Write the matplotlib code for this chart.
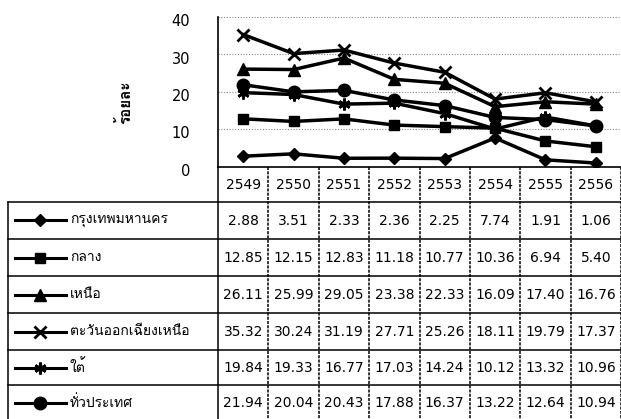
import matplotlib
matplotlib.use("Agg")
import matplotlib.pyplot as plt
from matplotlib import font_manager as fm
from matplotlib.lines import Line2D
from matplotlib.transforms import ScaledTranslation

years = ["2549", "2550", "2551", "2552", "2553", "2554", "2555", "2556"]
series_names = ["กรุงเทพมหานคร", "กลาง", "เหนือ", "ตะวันออกเฉียงเหนือ", "ใต้", "ทั่วประเทศ"]
bangkok = [2.88, 3.51, 2.33, 2.36, 2.25, 7.74, 1.91, 1.06]
central = [12.85, 12.15, 12.83, 11.18, 10.77, 10.36, 6.94, 5.40]
north = [26.11, 25.99, 29.05, 23.38, 22.33, 16.09, 17.40, 16.76]
northeast = [35.32, 30.24, 31.19, 27.71, 25.26, 18.11, 19.79, 17.37]
south = [19.84, 19.33, 16.77, 17.03, 14.24, 10.12, 13.32, 10.96]
whole = [21.94, 20.04, 20.43, 17.88, 16.37, 13.22, 12.64, 10.94]
series_values = [bangkok, central, north, northeast, south, whole]
y_ticks = [0, 10, 20, 30, 40]
y_label = "ร้อยละ"

available = {f.name for f in fm.fontManager.ttflist}
thai_font = next((n for n in ["Loma", "Noto Sans Thai Looped", "Noto Sans Thai"] if n in available), "DejaVu Sans")
THAI = [thai_font, "DejaVu Sans"]
NUM = "DejaVu Sans"
plt.rcParams["font.family"] = THAI

W, H = 621, 419
fig = plt.figure(figsize=(W / 100, H / 100), dpi=100)

def fx(x):
    return x / W

def fy(y):
    return 1 - y / H

ax_left, ax_right, ax_top, ax_bottom = 218, 621, 17, 167
ax = fig.add_axes([fx(ax_left), fy(ax_bottom), fx(ax_right - ax_left), fy(ax_top) - fy(ax_bottom)])
ax.set_xlim(-0.5, len(years) - 0.5)
ax.set_ylim(0, 40)
ax.set_yticks(y_ticks)
ax.set_yticklabels([str(v) for v in y_ticks], fontsize=10.5, family=NUM)
ax.tick_params(axis="y", length=0, pad=20)
offset = ScaledTranslation(0, -3 / 100, fig.dpi_scale_trans)
for lab in ax.get_yticklabels():
    lab.set_transform(lab.get_transform() + offset)
ax.set_xticks([])
for s in ["top", "right"]:
    ax.spines[s].set_visible(False)
ax.spines["left"].set_linewidth(1.2)
ax.spines["bottom"].set_linewidth(1.2)
ax.yaxis.grid(True, linestyle=(0, (1, 1.5)), color="#888888", linewidth=0.8)
ax.set_axisbelow(True)

markers = ["D", "s", "^", "x", (6, 2, 0), "o"]
msizes = [6.5, 7.5, 8.5, 8.5, 8.5, 9]
xs = list(range(len(years)))
for vals, m, ms in zip(series_values, markers, msizes):
    ax.plot(xs, vals, color="black", lw=2.5, marker=m, markersize=ms,
            markeredgewidth=2 if m in ("x", (6, 2, 0)) else 1)

fig.text(fx(125), fy(102), y_label, rotation=90, ha="center", va="center", fontsize=11, weight="bold")

# table
col_w = (ax_right - ax_left) / len(years)
header_top, header_bot = 167, 202
row_edges = [202, 239, 276, 313, 350, 385, 421]
tab_left = 8
lw = 1.1

def hline(y, x0, x1):
    fig.add_artist(Line2D([fx(x0), fx(x1)], [fy(y), fy(y)], color="black", lw=lw))

def vline(x, y0, y1, ls="-"):
    fig.add_artist(Line2D([fx(x), fx(x)], [fy(y0), fy(y1)], color="black", lw=lw, linestyle=ls))

hline(header_bot, tab_left, ax_right)
for y in row_edges[1:-1]:
    hline(y, tab_left, ax_right)
vline(tab_left, header_bot, H)
for i in range(len(years)):
    x = ax_left + i * col_w
    vline(x, header_top, H, ls=(0, (2, 0.8)) if i > 0 else "-")
vline(ax_right - 0.5, header_top, H, ls=(0, (2, 0.8)))

for i, yr in enumerate(years):
    fig.text(fx(ax_left + (i + 0.5) * col_w), fy((header_top + header_bot) / 2), yr,
             ha="center", va="center", fontsize=10, family=NUM)

for r, (name, vals, m, ms) in enumerate(zip(series_names, series_values, markers, msizes)):
    yc = (row_edges[r] + row_edges[r + 1]) / 2
    if r == len(series_names) - 1:
        yc = row_edges[r] + 18
    fig.add_artist(Line2D([fx(15), fx(66)], [fy(yc), fy(yc)], color="black", lw=2.2))
    fig.add_artist(Line2D([fx(40)], [fy(yc)], color="black", marker=m, markersize=ms,
                          markeredgewidth=2 if m in ("x", (6, 2, 0)) else 1, linestyle="none"))
    fig.text(fx(70), fy(yc), name, ha="left", va="center", fontsize=10)
    for i, v in enumerate(vals):
        fig.text(fx(ax_left + (i + 0.5) * col_w), fy(yc), f"{v:.2f}",
                 ha="center", va="center", fontsize=10, family=NUM)

fig.savefig("out.png", dpi=100)
